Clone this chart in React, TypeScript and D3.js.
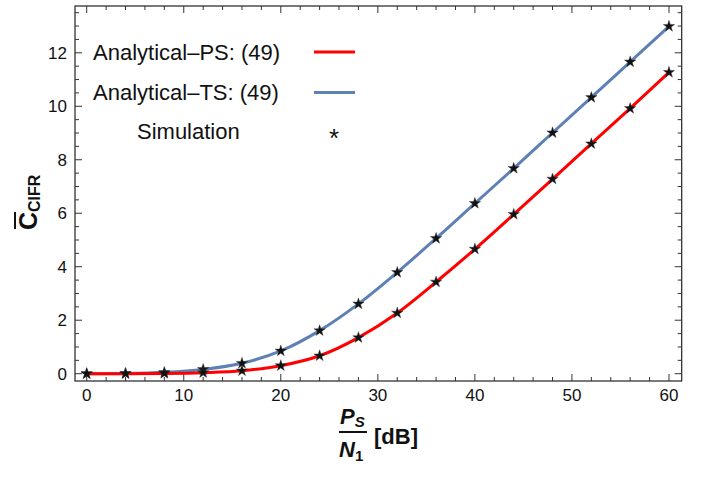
import React from "react";
import * as d3 from "d3";

const snr = [0, 4, 8, 12, 16, 20, 24, 28, 32, 36, 40, 44, 48, 52, 56, 60];
const capPS = [0, 0.0, 0.01, 0.04, 0.11, 0.3, 0.67, 1.35, 2.27, 3.43, 4.66, 5.96, 7.28, 8.6, 9.92, 11.27];
const capTS = [0, 0.01, 0.05, 0.16, 0.39, 0.85, 1.61, 2.61, 3.79, 5.06, 6.37, 7.68, 9.01, 10.33, 11.66, 12.99];
const simPS = capPS;
const simTS = capTS;
const xMajor = [0, 10, 20, 30, 40, 50, 60];
const yMajor = [0, 2, 4, 6, 8, 10, 12];
const legendLabels = ["Analytical\u2013PS: (49)", "Analytical\u2013TS: (49)", "Simulation"];

const W = 703;
const H = 486;
const L = 75, R = 681.7, T = 6, B = 381;
const FONT = "'Liberation Sans', Arial, sans-serif";

export default function App() {
  const x = d3.scaleLinear().domain([-1.206, 61.31]).range([L, R]);
  const y = d3.scaleLinear().domain([-0.273, 13.75]).range([B, T]);
  const line = d3
    .line<number>()
    .x((_, i) => x(snr[i]))
    .y((d) => y(d))
    .curve(d3.curveMonotoneX);
  const star = d3.symbol().type(d3.symbolStar).size(40)() as string;

  const xMinor = d3.range(0, 61, 2).filter((v) => v % 10 !== 0);
  const yMinor = d3.range(0, 13.76, 0.5).filter((v) => v % 2 !== 0);
  const tickColor = "#333";

  return (
    <svg width={W} height={H} style={{ display: "block", position: "absolute", left: 0, top: 0 }} fontFamily={FONT}>
      <rect x={0} y={0} width={W} height={H} fill="white" />
      {/* frame */}
      <rect x={L} y={T} width={R - L} height={B - T} fill="none" stroke="#222" strokeWidth={1.2} />
      {/* x ticks */}
      {xMajor.map((v) => (
        <g key={"xM" + v}>
          <line x1={x(v)} x2={x(v)} y1={B} y2={B - 7} stroke={tickColor} />
          <line x1={x(v)} x2={x(v)} y1={T} y2={T + 7} stroke={tickColor} />
          <text x={x(v)} y={401} textAnchor="middle" fontSize={17} fill="#111">{v}</text>
        </g>
      ))}
      {xMinor.map((v) => (
        <g key={"xm" + v}>
          <line x1={x(v)} x2={x(v)} y1={B} y2={B - 4} stroke={tickColor} />
          <line x1={x(v)} x2={x(v)} y1={T} y2={T + 4} stroke={tickColor} />
        </g>
      ))}
      {yMajor.map((v) => (
        <g key={"yM" + v}>
          <line x1={L} x2={L + 7} y1={y(v)} y2={y(v)} stroke={tickColor} />
          <line x1={R} x2={R - 7} y1={y(v)} y2={y(v)} stroke={tickColor} />
          <text x={67} y={y(v) + 6} textAnchor="end" fontSize={17} fill="#111">{v}</text>
        </g>
      ))}
      {yMinor.map((v) => (
        <g key={"ym" + v}>
          <line x1={L} x2={L + 4} y1={y(v)} y2={y(v)} stroke={tickColor} />
          <line x1={R} x2={R - 4} y1={y(v)} y2={y(v)} stroke={tickColor} />
        </g>
      ))}
      {/* curves */}
      <path d={line(capTS) as string} fill="none" stroke="#5E81B5" strokeWidth={3} />
      <path d={line(capPS) as string} fill="none" stroke="#FF0000" strokeWidth={3} />
      {/* simulation markers */}
      {simTS.map((v, i) => (
        <path key={"st" + i} d={star} transform={`translate(${x(snr[i])},${y(v)})`} fill="#111" stroke="#333" strokeWidth={0.4} />
      ))}
      {simPS.map((v, i) => (
        <path key={"sp" + i} d={star} transform={`translate(${x(snr[i])},${y(v)})`} fill="#111" stroke="#333" strokeWidth={0.4} />
      ))}
      {/* legend */}
      <text x={93} y={60} fontSize={22} fill="#111">{legendLabels[0]}</text>
      <line x1={314} x2={355} y1={52} y2={52} stroke="#FF0000" strokeWidth={3} />
      <text x={93} y={100} fontSize={22} fill="#111">{legendLabels[1]}</text>
      <line x1={314} x2={355} y1={92.5} y2={92.5} stroke="#5E81B5" strokeWidth={3} />
      <text x={137} y={139} fontSize={22} fill="#111">{legendLabels[2]}</text>
      <text x={334} y={147} fontSize={26} textAnchor="middle" fill="#111">*</text>
      {/* y label */}
      <g transform="translate(37,230) rotate(-90)">
        <text x={0} y={0} fontSize={25} fontWeight="bold" fill="#111">
          <tspan>C</tspan>
          <tspan fontSize={16} dy={3}>CIFR</tspan>
        </text>
        <line x1={1} x2={18} y1={-22} y2={-22} stroke="#111" strokeWidth={2} />
      </g>
      {/* x label */}
      <g fill="#111" fontWeight="bold">
        <text x={340} y={424} fontSize={22} fontStyle="italic">P<tspan fontSize={15} dy={3}>S</tspan></text>
        <line x1={339} x2={367} y1={432} y2={432} stroke="#111" strokeWidth={2} />
        <text x={339} y={457} fontSize={22} fontStyle="italic">N<tspan fontSize={15} dy={4} fontStyle="normal">1</tspan></text>
        <text x={374} y={444} fontSize={22}>[dB]</text>
      </g>
    </svg>
  );
}
